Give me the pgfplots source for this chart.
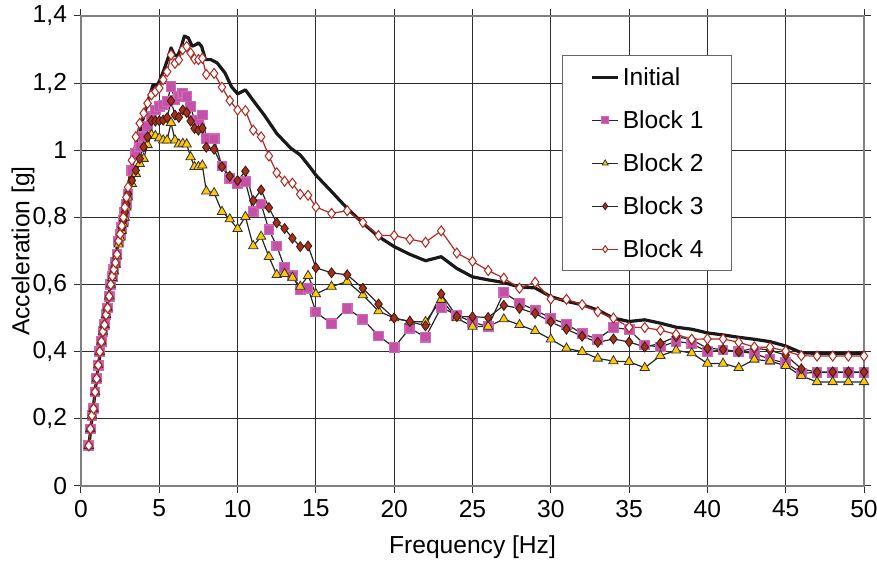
\documentclass[border=0pt]{standalone}
\usepackage{pgfplots}
\pgfplotsset{compat=1.18}
\usepackage{fontspec}
\setmainfont{Liberation Sans}
\definecolor{bOne}{RGB}{196,80,168}
\definecolor{bTwo}{RGB}{255,200,0}
\definecolor{bThree}{RGB}{160,50,30}
\definecolor{bFour}{RGB}{175,40,30}
\definecolor{gridc}{RGB}{45,45,45}
\begin{document}
\begin{tikzpicture}
\begin{axis}[
  at={(0,0)}, anchor=south west,
  scale only axis, width=391.5pt, height=235pt,
  xmin=0, xmax=50, ymin=0, ymax=1.4,
  xtick={0,5,10,15,20,25,30,35,40,45,50},
  xticklabels={0,5,10,15,20,25,30,35,40,45,50},
  ytick={0,0.2,0.4,0.6,0.8,1,1.2,1.4},
  yticklabels={0,{0,2},{0,4},{0,6},{0,8},1,{1,2},{1,4}},
  grid=major, major grid style={gridc, line width=0.5pt},
  axis line style={gray, line width=0.7pt},
  tick align=outside, major tick length=3.5pt,
  tick style={gridc, line width=0.5pt},
  ticklabel style={font=\fontsize{12.3}{14}\selectfont},
  xlabel={Frequency [Hz]}, ylabel={Acceleration [g]},
  label style={font=\fontsize{12.3}{14}\selectfont},
  xlabel style={at={([yshift=-30.5pt]axis description cs:0.5,0)}, anchor=center},
  ylabel style={at={([xshift=-29pt]axis description cs:0,0.5)}, anchor=center},
  legend cell align=left,
  legend image code/.code={\draw[mark repeat=2,mark phase=2,#1] plot coordinates {(0pt,0pt) (6.5pt,0pt) (13pt,0pt)};},
  legend image post style={mark size=1.7pt},
  legend style={at={(0.6143,0.917)}, anchor=north west, draw=gray!80!black, line width=0.6pt, fill=white,
    font=\fontsize{12.3}{14}\selectfont, inner xsep=14pt, inner ysep=5.8pt, row sep=11.5pt,
    nodes={inner sep=0pt, text height=9pt, text depth=1pt},
    /tikz/every odd column/.append style={column sep=1.5pt}},
]
\addplot[black!90, line width=1.6pt, line join=round] coordinates {
(0.5,0.12)(1.0,0.32)(1.5,0.49)(2.0,0.63)(2.5,0.76)(3.0,0.89)(3.5,1.01)(4.0,1.10)(4.3,1.15)(4.6,1.195)(4.8,1.19)(5.0,1.205)(5.3,1.24)(5.6,1.28)(5.75,1.305)(5.95,1.285)(6.15,1.28)(6.35,1.30)(6.6,1.34)(6.85,1.335)(7.1,1.31)(7.35,1.315)(7.5,1.32)(7.7,1.31)(7.95,1.27)(8.3,1.27)(8.7,1.26)(9.2,1.23)(9.6,1.19)(10.0,1.168)(10.5,1.18)(11.0,1.148)(11.7,1.105)(12.5,1.05)(13.4,1.006)(14.0,0.986)(14.6,0.951)(15,0.926)(16,0.877)(17,0.827)(18,0.783)(19,0.743)(20,0.713)(21,0.69)(22,0.671)(23,0.683)(24,0.648)(25,0.623)(26,0.614)(27,0.606)(28,0.593)(29,0.59)(30,0.564)(31,0.55)(32,0.54)(33,0.524)(34,0.50)(35,0.49)(36,0.495)(37,0.485)(38,0.473)(39,0.467)(40,0.456)(41,0.45)(42,0.443)(43,0.437)(44,0.43)(45,0.417)(46,0.397)(47,0.395)(48,0.395)(49,0.395)(50,0.395)};
\addlegendentry{Initial}
\addplot[black!85, line width=0.6pt, mark=square*, mark size=2.4pt, mark options={solid, fill=bOne, draw=bOne!85!white}] coordinates {
(0.5,0.12)(0.6,0.17)(0.7,0.21)(0.8,0.23)(0.9,0.28)(1.0,0.32)(1.1,0.36)(1.2,0.40)(1.3,0.43)(1.4,0.46)(1.5,0.48)(1.6,0.51)(1.7,0.53)(1.8,0.565)(1.9,0.60)(2.0,0.625)(2.1,0.645)(2.2,0.665)(2.3,0.69)(2.4,0.73)(2.5,0.75)(2.6,0.77)(2.7,0.79)(2.8,0.815)(2.9,0.84)(3.0,0.87)
(3.25,0.94)(3.5,0.99)(3.75,1.01)(4.0,1.04)(4.25,1.07)(4.5,1.10)(4.75,1.12)(5.0,1.13)(5.25,1.135)(5.5,1.145)(5.75,1.19)(6.0,1.15)(6.25,1.16)(6.5,1.17)(6.75,1.16)(7.0,1.13)(7.25,1.09)(7.5,1.09)(7.75,1.105)(8.0,1.035)(8.5,1.034)(9.0,0.953)(9.5,0.915)(10,0.90)(10.5,0.906)(11,0.817)(11.5,0.84)(12,0.763)(12.5,0.715)(13,0.651)(13.5,0.626)(14,0.584)(14.5,0.589)(15,0.518)(16,0.483)(17,0.529)(18,0.497)(19,0.447)(20,0.413)(21,0.47)(22,0.443)(23,0.532)(24,0.509)(25,0.488)(26,0.475)(27,0.577)(28,0.545)(29,0.524)(30,0.50)(31,0.482)(32,0.454)(33,0.437)(34,0.472)(35,0.466)(36,0.42)(37,0.414)(38,0.431)(39,0.424)(40,0.40)(41,0.405)(42,0.40)(43,0.395)(44,0.377)(45,0.367)(46,0.336)(47,0.338)(48,0.338)(49,0.338)(50,0.338)};
\addlegendentry{Block 1}
\addplot[black!85, line width=0.6pt, mark=triangle*, mark size=2.7pt, mark options={solid, fill=bTwo, draw=black!80, line width=0.4pt}] coordinates {
(0.5,0.12)(0.6,0.17)(0.7,0.21)(0.8,0.23)(0.9,0.28)(1.0,0.32)(1.1,0.36)(1.2,0.40)(1.3,0.43)(1.4,0.46)(1.5,0.48)(1.6,0.51)(1.7,0.53)(1.8,0.565)(1.9,0.60)(2.0,0.62)(2.1,0.64)(2.2,0.66)(2.3,0.685)(2.4,0.72)(2.5,0.74)(2.6,0.76)(2.7,0.78)(2.8,0.80)(2.9,0.83)(3.0,0.86)
(3.25,0.90)(3.5,0.93)(3.75,0.96)(4.0,0.975)(4.25,1.016)(4.5,1.046)(4.75,1.043)(5.0,1.036)(5.25,1.03)(5.5,1.03)(5.75,1.082)(6.0,1.03)(6.25,1.018)(6.5,1.02)(6.75,1.018)(7.0,0.98)(7.25,0.951)(7.5,0.951)(7.75,0.955)(8.0,0.878)(8.5,0.873)(9.0,0.817)(9.5,0.795)(10,0.766)(10.5,0.802)(11,0.715)(11.5,0.743)(12,0.683)(12.5,0.629)(13,0.632)(13.5,0.621)(14,0.594)(14.5,0.626)(15,0.572)(16,0.594)(17,0.609)(18,0.569)(19,0.521)(20,0.50)(21,0.49)(22,0.489)(23,0.555)(24,0.50)(25,0.475)(26,0.475)(27,0.497)(28,0.48)(29,0.462)(30,0.437)(31,0.41)(32,0.40)(33,0.38)(34,0.372)(35,0.37)(36,0.352)(37,0.388)(38,0.404)(39,0.396)(40,0.365)(41,0.365)(42,0.352)(43,0.377)(44,0.372)(45,0.358)(46,0.328)(47,0.31)(48,0.31)(49,0.31)(50,0.31)};
\addlegendentry{Block 2}
\addplot[black!85, line width=0.6pt, mark=diamond*, mark size=2.5pt, mark options={solid, fill=bThree, draw=black!60!bThree, line width=0.4pt}] coordinates {
(0.5,0.12)(0.6,0.17)(0.7,0.21)(0.8,0.23)(0.9,0.28)(1.0,0.32)(1.1,0.36)(1.2,0.40)(1.3,0.43)(1.4,0.46)(1.5,0.48)(1.6,0.51)(1.7,0.53)(1.8,0.565)(1.9,0.60)(2.0,0.625)(2.1,0.645)(2.2,0.665)(2.3,0.69)(2.4,0.73)(2.5,0.75)(2.6,0.77)(2.7,0.79)(2.8,0.815)(2.9,0.84)(3.0,0.87)
(3.25,0.91)(3.5,0.94)(3.75,0.975)(4.0,1.01)(4.25,1.04)(4.5,1.088)(4.75,1.087)(5.0,1.088)(5.25,1.09)(5.5,1.097)(5.75,1.147)(6.0,1.105)(6.25,1.098)(6.5,1.12)(6.75,1.112)(7.0,1.087)(7.25,1.065)(7.5,1.06)(7.75,1.066)(8.0,1.009)(8.5,1.003)(9.0,0.951)(9.5,0.923)(10,0.91)(10.5,0.938)(11,0.85)(11.5,0.882)(12,0.829)(12.5,0.784)(13,0.767)(13.5,0.738)(14,0.713)(14.5,0.715)(15,0.65)(16,0.635)(17,0.629)(18,0.589)(19,0.542)(20,0.50)(21,0.49)(22,0.477)(23,0.572)(24,0.505)(25,0.504)(26,0.502)(27,0.538)(28,0.529)(29,0.514)(30,0.489)(31,0.467)(32,0.446)(33,0.428)(34,0.438)(35,0.429)(36,0.414)(37,0.425)(38,0.445)(39,0.436)(40,0.41)(41,0.407)(42,0.40)(43,0.411)(44,0.404)(45,0.39)(46,0.349)(47,0.339)(48,0.34)(49,0.34)(50,0.34)};
\addlegendentry{Block 3}
\addplot[bFour, line width=0.6pt, mark=diamond*, mark size=2.5pt, mark options={solid, fill=white, draw=bFour, line width=0.5pt}] coordinates {
(0.5,0.12)(0.6,0.17)(0.7,0.21)(0.8,0.23)(0.9,0.28)(1.0,0.32)(1.1,0.36)(1.2,0.40)(1.3,0.43)(1.4,0.46)(1.5,0.48)(1.6,0.51)(1.7,0.53)(1.8,0.565)(1.9,0.60)(2.0,0.625)(2.1,0.645)(2.2,0.665)(2.3,0.69)(2.4,0.73)(2.5,0.75)(2.6,0.775)(2.7,0.80)(2.8,0.83)(2.9,0.86)(3.0,0.89)
(3.25,0.97)(3.5,1.04)(3.75,1.08)(4.0,1.11)(4.25,1.14)(4.5,1.165)(4.75,1.175)(5.0,1.185)(5.25,1.21)(5.5,1.234)(5.75,1.284)(6.0,1.259)(6.25,1.269)(6.5,1.30)(6.75,1.309)(7.0,1.29)(7.25,1.272)(7.5,1.27)(7.75,1.274)(8.0,1.226)(8.5,1.229)(9.0,1.188)(9.5,1.148)(10,1.12)(10.5,1.118)(11,1.06)(11.5,1.04)(12,0.983)(12.5,0.933)(13,0.908)(13.5,0.902)(14,0.869)(14.5,0.866)(15,0.831)(16,0.812)(17,0.82)(18,0.785)(19,0.746)(20,0.746)(21,0.735)(22,0.726)(23,0.76)(24,0.694)(25,0.669)(26,0.642)(27,0.619)(28,0.589)(29,0.607)(30,0.557)(31,0.556)(32,0.54)(33,0.519)(34,0.50)(35,0.473)(36,0.472)(37,0.464)(38,0.452)(39,0.437)(40,0.438)(41,0.438)(42,0.428)(43,0.414)(44,0.413)(45,0.402)(46,0.388)(47,0.387)(48,0.387)(49,0.387)(50,0.387)};
\addlegendentry{Block 4}
\end{axis}
\pgfresetboundingbox
\useasboundingbox (-40.5pt,-37.5pt) rectangle (398pt,243pt);
\end{tikzpicture}
\end{document}
